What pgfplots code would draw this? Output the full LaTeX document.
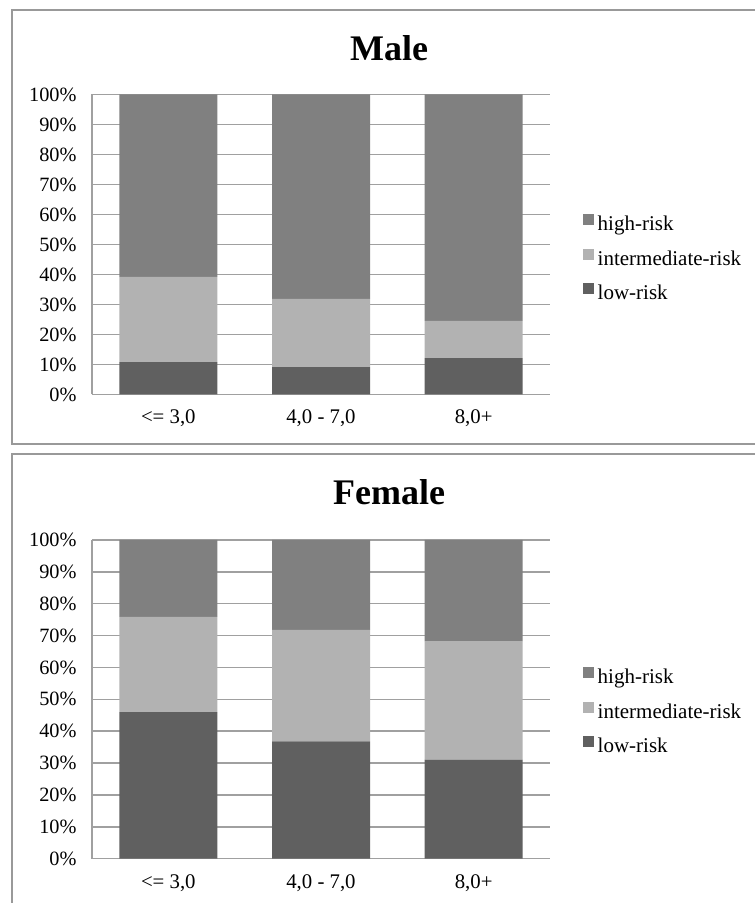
\documentclass[border=0pt]{standalone}
\usepackage{pgfplots}
\pgfplotsset{compat=1.18}
\usepackage{fontspec}
\setmainfont{Liberation Serif}
\definecolor{highc}{HTML}{808080}
\definecolor{midc}{HTML}{B2B2B2}
\definecolor{lowc}{HTML}{606060}
\definecolor{gridc}{HTML}{A0A0A0}
\definecolor{framec}{HTML}{999999}
\pgfplotsset{
  riskstyle/.style={
    scale only axis,
    width=458pt,
    ybar stacked,
    bar width=98pt,
    xmin=-0.5, xmax=2.5,
    ymin=0, ymax=100,
    xtick={0,1,2},
    xticklabels={{<= 3,0},{4,0 - 7,0},{8,0+}},
    ytick={0,10,...,100},
    yticklabels={0\%,10\%,20\%,30\%,40\%,50\%,60\%,70\%,80\%,90\%,100\%},
    axis x line*=bottom,
    axis y line*=left,
    axis line style={gridc, line width=1.5pt, -},
    ymajorgrids,
    major grid style={gridc, line width=1.5pt},
    major tick length=0pt,
    tick style={draw=none},
    ticklabel style={font=\fontsize{20.3}{24}\selectfont},
    xticklabel style={font=\fontsize{20.8}{24}\selectfont, yshift=-12pt},
    yticklabel style={xshift=-12pt},
    every axis plot/.append style={draw=none},
    reverse legend,
    legend image code/.code={\fill[##1, draw=none] (0pt,0.5pt) rectangle (11pt,11.5pt);},
    legend style={draw=none, fill=none, inner sep=0pt,
      font=\fontsize{21}{24}\selectfont,
      cells={anchor=west},
      column sep=3pt,
      nodes={inner xsep=1pt, inner ysep=0pt, text height=15pt, text depth=5pt},
      row sep=13pt},
    clip=false,
  }
}
\begin{document}
\begin{tikzpicture}[x=1pt,y=1pt]
\useasboundingbox (0,0) rectangle (755,903);
% panel frames
\draw[framec, line width=1.5pt] (760,893) -- (12,893) -- (12,459) -- (760,459);
\draw[framec, line width=1.5pt] (760,449) -- (12,449) -- (12,-5);
% titles
\node[anchor=base, font=\fontsize{36}{40}\selectfont\bfseries] at (389,842) {Male};
\node[anchor=base, font=\fontsize{36}{40}\selectfont\bfseries] at (389,398) {Female};
\begin{axis}[riskstyle, height=300pt, at={(92pt,508.5pt)}, anchor=south west,
  legend style={at={(1.071,0.45)}, anchor=west}]
\addplot[fill=lowc] coordinates {(0,10.8) (1,9.1) (2,12.1)};
\addplot[fill=midc] coordinates {(0,28.4) (1,22.8) (2,12.4)};
\addplot[fill=highc] coordinates {(0,60.8) (1,68.1) (2,75.5)};
\legend{low-risk, intermediate-risk, high-risk}
\end{axis}
\begin{axis}[riskstyle, height=318.7pt, at={(92pt,44.3pt)}, anchor=south west,
  legend style={at={(1.071,0.458)}, anchor=west}]
\addplot[fill=lowc] coordinates {(0,46.0) (1,36.8) (2,31.1)};
\addplot[fill=midc] coordinates {(0,29.9) (1,35.0) (2,37.2)};
\addplot[fill=highc] coordinates {(0,24.1) (1,28.2) (2,31.7)};
\legend{low-risk, intermediate-risk, high-risk}
\end{axis}
\end{tikzpicture}
\end{document}
